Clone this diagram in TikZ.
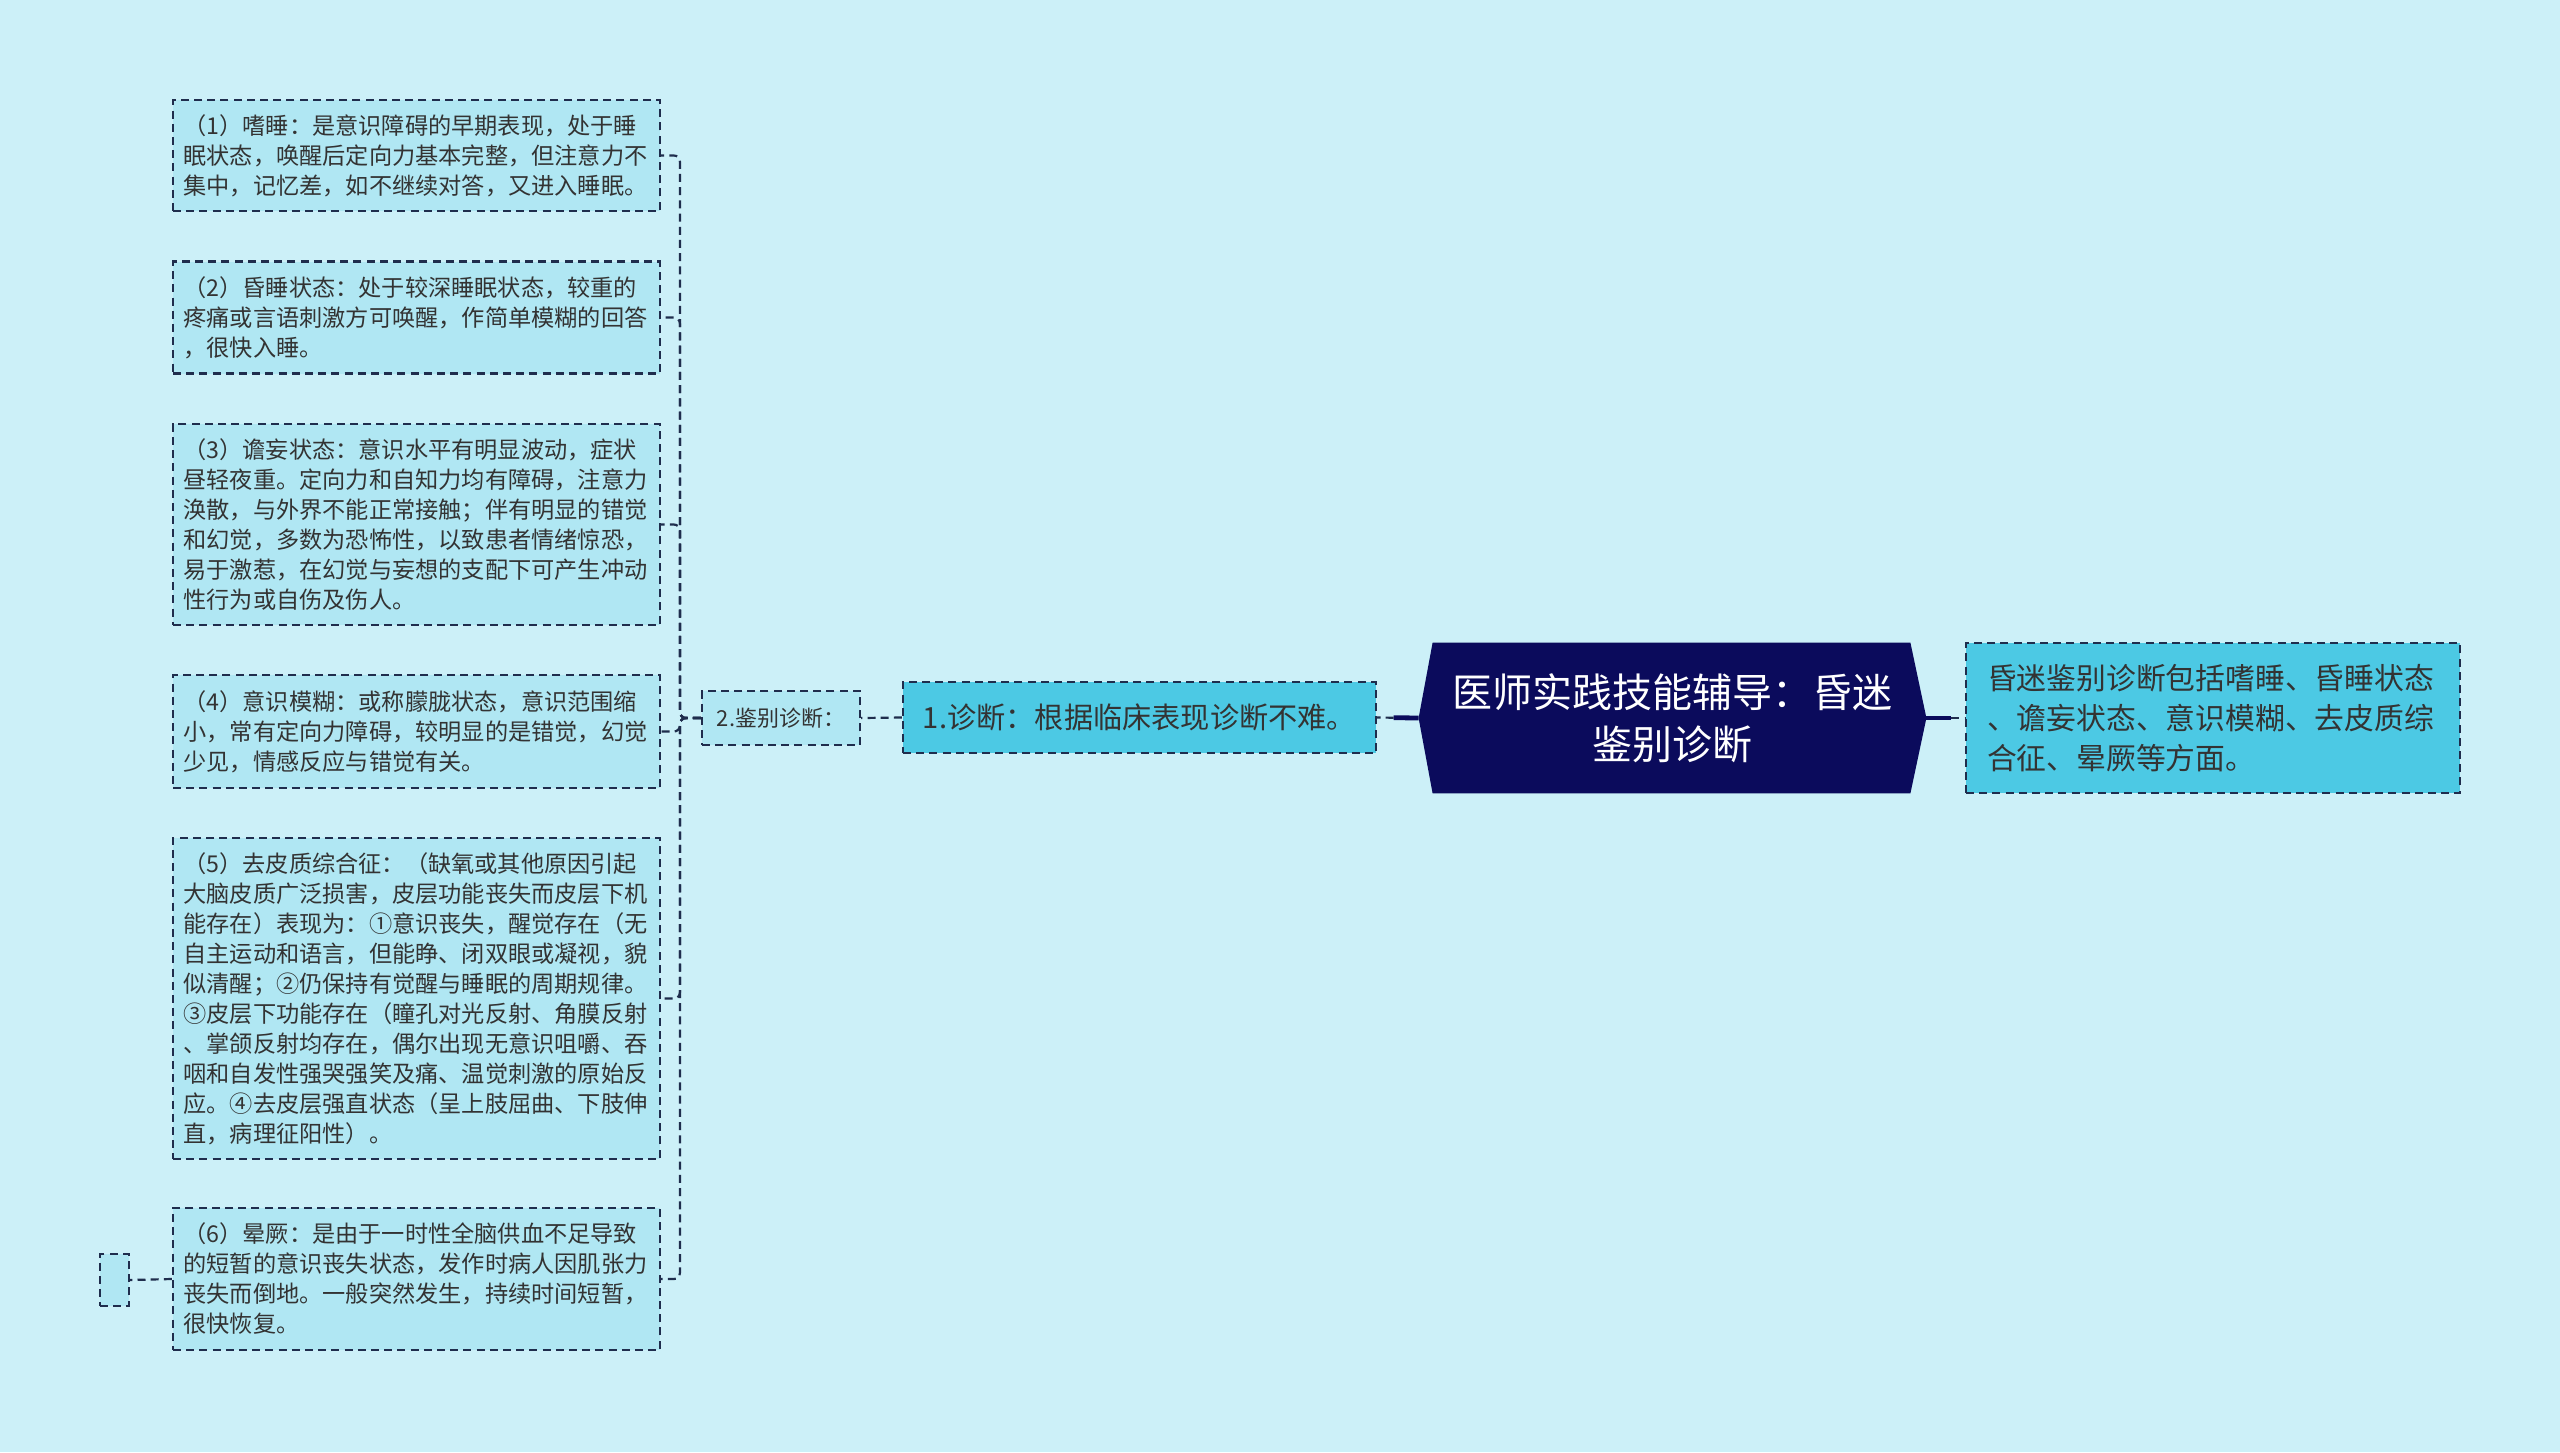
\documentclass[tikz,border=0pt]{standalone}
\usepackage{fontspec}
\setmainfont{Noto Sans CJK SC}
\usetikzlibrary{backgrounds,calc}
\definecolor{bg}{HTML}{CCF0F8}
\definecolor{leaffill}{HTML}{B0E7F3}
\definecolor{brightfill}{HTML}{4CC9E4}
\definecolor{rootfill}{HTML}{0B0B5C}
\definecolor{edge}{HTML}{1F2D4D}
\definecolor{txt}{HTML}{333333}
\begin{document}
\begin{tikzpicture}[x=0.5pt,y=-0.5pt,
  dashbox/.style={draw=edge, line width=1.1pt, dash pattern=on 4pt off 2.6pt},
  leaf/.style={dashbox, fill=leaffill, text=txt, align=left, text width=233pt,
    minimum width=243.5pt, inner xsep=0pt, inner ysep=0pt,
    font=\fontsize{11.6pt}{15pt}\selectfont},
  link/.style={draw=edge, line width=1.1pt, dash pattern=on 4pt off 2.6pt, rounded corners=3pt},
  boldlink/.style={draw=rootfill, line width=2.4pt}
]
\begin{pgfonlayer}{background}
\fill[bg] (0,0) rectangle (2560,1452);
\end{pgfonlayer}
\useasboundingbox (0,0) rectangle (2560,1452);

% root
\node[minimum width=253.5pt, minimum height=75pt, inner sep=0pt, text=white, align=center,
  font=\fontsize{20pt}{26pt}\selectfont] (root) at (1672.5,718)
  {医师实践技能辅导：昏迷\\鉴别诊断};
\begin{pgfonlayer}{background}
\fill[rootfill] ([xshift=7pt]root.north west) -- ([xshift=-8pt]root.north east) -- (root.east)
  -- ([xshift=-8pt]root.south east) -- ([xshift=7pt]root.south west) -- (root.west) -- cycle;
\end{pgfonlayer}

% right summary
\node[dashbox, fill=brightfill, text=txt, align=left, text width=226pt, minimum width=247pt,
  minimum height=75pt, inner sep=0pt, font=\fontsize{14.9pt}{20pt}\selectfont] (summary) at (2213,718)
  {昏迷鉴别诊断包括嗜睡、昏睡状态\\、谵妄状态、意识模糊、去皮质综\\合征、晕厥等方面。};

% diagnosis
\node[dashbox, fill=brightfill, text=txt, minimum width=236.5pt, minimum height=35.5pt, inner sep=0pt,
  font=\fontsize{14.6pt}{18pt}\selectfont] (diag) at (1139.5,717.5)
  {1.诊断：根据临床表现诊断不难。};

% differential
\node[dashbox, fill=leaffill, text=txt, minimum width=79pt, minimum height=27pt, inner sep=0pt,
  font=\fontsize{11pt}{13pt}\selectfont] (diff) at (781,718)
  {2.鉴别诊断：};

% leaves
\node[leaf, minimum height=55.5pt] (c1) at (416.5,155.5)
  {（1）嗜睡：是意识障碍的早期表现，处于睡\\眠状态，唤醒后定向力基本完整，但注意力不\\集中，记忆差，如不继续对答，又进入睡眠。};
\node[leaf, minimum height=56pt] (c2) at (416.5,317.5)
  {（2）昏睡状态：处于较深睡眠状态，较重的\\疼痛或言语刺激方可唤醒，作简单模糊的回答\\，很快入睡。};
\node[leaf, minimum height=100.5pt] (c3) at (416.5,524.5)
  {（3）谵妄状态：意识水平有明显波动，症状\\昼轻夜重。定向力和自知力均有障碍，注意力\\涣散，与外界不能正常接触；伴有明显的错觉\\和幻觉，多数为恐怖性，以致患者情绪惊恐，\\易于激惹，在幻觉与妄想的支配下可产生冲动\\性行为或自伤及伤人。};
\node[leaf, minimum height=56.5pt] (c4) at (416.5,731.5)
  {（4）意识模糊：或称朦胧状态，意识范围缩\\小，常有定向力障碍，较明显的是错觉，幻觉\\少见，情感反应与错觉有关。};
\node[leaf, minimum height=160.5pt] (c5) at (416.5,998.5)
  {（5）去皮质综合征：（缺氧或其他原因引起\\大脑皮质广泛损害，皮层功能丧失而皮层下机\\能存在）表现为：①意识丧失，醒觉存在（无\\自主运动和语言，但能睁、闭双眼或凝视，貌\\似清醒；②仍保持有觉醒与睡眠的周期规律。\\③皮层下功能存在（瞳孔对光反射、角膜反射\\、掌颌反射均存在，偶尔出现无意识咀嚼、吞\\咽和自发性强哭强笑及痛、温觉刺激的原始反\\应。④去皮层强直状态（呈上肢屈曲、下肢伸\\直，病理征阳性）。};
\node[leaf, minimum height=71pt] (c6) at (416.5,1279)
  {（6）晕厥：是由于一时性全脑供血不足导致\\的短暂的意识丧失状态，发作时病人因肌张力\\丧失而倒地。一般突然发生，持续时间短暂，\\很快恢复。};

% empty box
\node[dashbox, fill=leaffill, minimum width=14.5pt, minimum height=26pt, inner sep=0pt] (empty) at (114.5,1280) {};

% connectors
\draw[boldlink] (root.west) -- ($(root.west)!0.6!(diag.east)$);
\draw[link] ($(root.west)!0.6!(diag.east)$) -- (diag.east);
\draw[boldlink] (root.east) -- ($(root.east)!0.65!(summary.west)$);
\draw[link] ($(root.east)!0.65!(summary.west)$) -- (summary.west);
\draw[link] (diag.west) -- (diff.east);
\foreach \c in {c1,c2,c3,c4,c5,c6}{
  \draw[link] (diff.west) -- ++(-21,0) |- (\c.east);
}
\draw[link] (c6.west) -- (empty.east);
\end{tikzpicture}
\end{document}
